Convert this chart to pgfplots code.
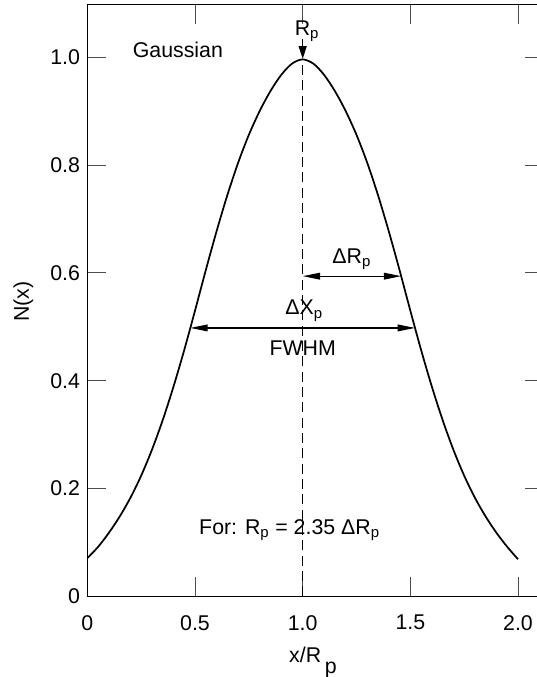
\documentclass[border=0pt]{standalone}
\usepackage{fontspec}
\setmainfont{Liberation Sans}
\usepackage{pgfplots}
\pgfplotsset{compat=1.18}
\usetikzlibrary{arrows.meta}

\begin{document}
\fontsize{16pt}{19pt}\selectfont
\begin{tikzpicture}
\begin{axis}[
  name=ax,
  scale only axis,
  width=342.5pt, height=443.85pt,
  xmin=0, xmax=2.1207, ymin=0, ymax=1.0975,
  axis line style={line width=1.2pt, black},
  tick style={line width=0.75pt, black!70},
  tick align=inside,
  major tick length=14.25pt,
  xtick={0,0.5,1,1.5,2},
  xticklabels={0,0.5,1.0,1.5,2.0},
  ytick={0,0.2,0.4,0.6,0.8,1.0},
  yticklabels={0,0.2,0.4,0.6,0.8,1.0},
  xtick pos=both, ytick pos=both,
  xticklabel pos=lower, yticklabel pos=left,
  every tick label/.append style={font=\fontsize{16pt}{19pt}\selectfont},
  xticklabel style={yshift=-8.5pt},
  ylabel={N(x)},
  ylabel style={at={(axis description cs:-0.140,0.498)}, anchor=center, rotate=0},
  xlabel={x/R\,\raisebox{-8.5pt}{p}},
  xlabel style={at={(axis description cs:0.494,-0.111)}, anchor=base},
  clip=false,
]
% implanted profile N(x), peak at x = Rp
\addplot[black, line width=1.3pt, smooth] coordinates {
  (0.00,0.071) (0.05,0.092) (0.10,0.118) (0.15,0.148) (0.20,0.183)
  (0.25,0.224) (0.30,0.272) (0.35,0.327) (0.40,0.389) (0.45,0.457)
  (0.50,0.530) (0.55,0.605) (0.60,0.677) (0.65,0.744) (0.70,0.804)
  (0.75,0.856) (0.80,0.900) (0.85,0.937) (0.90,0.967) (0.95,0.988)
  (1.00,0.996)
  (1.05,0.988) (1.10,0.967) (1.15,0.937) (1.20,0.900) (1.25,0.856)
  (1.30,0.804) (1.35,0.744) (1.40,0.677) (1.45,0.605) (1.50,0.530)
  (1.55,0.457) (1.60,0.389) (1.65,0.327) (1.70,0.272) (1.75,0.224)
  (1.80,0.183) (1.85,0.148) (1.90,0.118) (1.95,0.092) (2.00,0.069)
};
% projected range marker
\addplot[black, line width=0.9pt, dash pattern=on 7.5pt off 4pt] coordinates {(1,0) (1,0.996)};

% Rp arrow onto the peak
\draw[line width=0.9pt, -{Triangle[length=9.5pt,width=6pt]}] (axis cs:1,1.033) -- (axis cs:1,0.997);
\node[anchor=base] at (axis cs:1.02,1.041) {R\textsubscript{p}};

% straggle Delta Rp
\draw[line width=0.9pt, {Triangle[length=13pt,width=5pt]}-{Triangle[length=13pt,width=5pt]}]
  (axis cs:1,0.594) -- (axis cs:1.458,0.594);
\node[anchor=base] at (axis cs:1.228,0.618) {ΔR\textsubscript{p}};

% full width at half maximum
\draw[line width=0.9pt, {Triangle[length=13pt,width=5pt]}-{Triangle[length=13pt,width=5pt]}]
  (axis cs:0.478,0.498) -- (axis cs:1.522,0.498);
\node[anchor=base] at (axis cs:1.007,0.5225) {ΔX\textsubscript{p}};
\node[anchor=base] at (axis cs:1.0,0.447) {FWHM};

\node[anchor=base west] at (axis cs:0.177,1.0) {Gaussian};
\node[anchor=base] at (axis cs:0.939,0.115) {For: R\textsubscript{p} = 2.35 ΔR\textsubscript{p}};
\end{axis}
\pgfresetboundingbox
\path[use as bounding box] (ax.south west) ++(-65.5pt,-60.4pt) rectangle ++(402pt,507.75pt);
\end{tikzpicture}
\end{document}
